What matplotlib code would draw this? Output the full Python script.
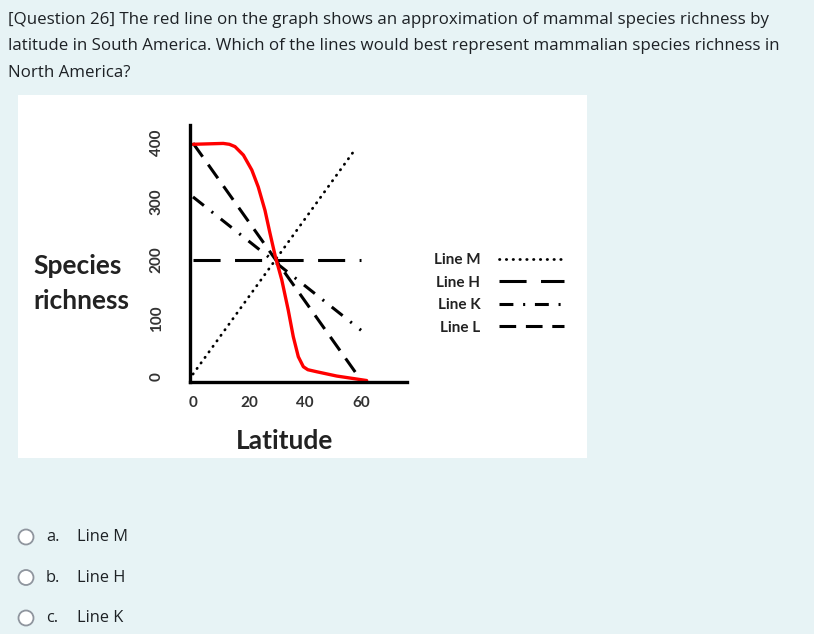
import matplotlib
matplotlib.use("Agg")
import matplotlib.pyplot as plt
from matplotlib.patches import Rectangle, Circle

plt.rcParams['lines.scale_dashes'] = False

# ---- data ----
latitude_ticks = [0, 20, 40, 60]
richness_ticks = [0, 100, 200, 300, 400]

red_x = [0, 10.8, 13, 15, 18, 21, 23.3, 25.7, 27.5, 29.3, 31.7, 34, 35.8, 37.6, 39.4, 41, 44.2, 51.3, 62]
red_y = [398, 399.5, 398, 394, 379.5, 354, 325, 285, 245.6, 208, 166, 114.5, 69, 34.7, 17.6, 12.5, 9, 1.7, -6]

line_m_x = [0, 58]
line_m_y = [5, 390]
line_h_x = [0, 60]
line_h_y = [200, 200]
line_k_x = [0, 60]
line_k_y = [308, 80]
line_l_x = [0, 58]
line_l_y = [400, 8]

legend_labels = ["Line M", "Line H", "Line K", "Line L"]
question_lines = [
    "[Question 26] The red line on the graph shows an approximation of mammal species richness by",
    "latitude in South America. Which of the lines would best represent mammalian species richness in",
    "North America?",
]
option_letters = ["a.", "b.", "c."]
option_texts = ["Line M", "Line H", "Line K"]

W, H = 814, 634
def fx(x): return x / W
def fy(y): return 1 - y / H

fig = plt.figure(figsize=(W / 100, H / 100), dpi=100, facecolor='#e7f3f5')

# white picture box
fig.patches.append(Rectangle((fx(18), fy(458)), (587 - 18) / W, (458 - 95) / H,
                             transform=fig.transFigure, facecolor='white', edgecolor='none', zorder=-5))

ax = fig.add_axes([fx(190), fy(382), (407 - 190) / W, (382 - 125) / H], zorder=2)
ax.set_facecolor('none')
ax.set_xlim(-1.07, 76.4)
ax.set_ylim(-8.5, 431)

lw = 2.2
hM, = ax.plot(line_m_x, line_m_y, color='black', lw=2.0, dashes=(0.3, 4.6), dash_capstyle='round')
hH, = ax.plot(line_h_x, line_h_y, color='black', lw=lw, dashes=(19.5, 10.4))
hK, = ax.plot(line_k_x, line_k_y, color='black', lw=lw, dashes=(10, 7, 1.5, 7))
hL, = ax.plot(line_l_x, line_l_y, color='black', lw=lw, dashes=(12, 7))
ax.plot(red_x, red_y, color='#ff0000', lw=2.4, solid_capstyle='round', solid_joinstyle='round')

for s in ['top', 'right']:
    ax.spines[s].set_visible(False)
for s in ['left', 'bottom']:
    ax.spines[s].set_linewidth(2.4)
    ax.spines[s].set_color('black')

ax.set_xticks(latitude_ticks)
ax.set_yticks(richness_ticks)
ax.tick_params(axis='both', length=0, labelsize=11, labelcolor='#333333')
ax.tick_params(axis='x', pad=10)
ax.tick_params(axis='y', pad=19)
for t in ax.get_xticklabels() + ax.get_yticklabels():
    t.set_fontfamily('Lato')
    t.set_fontweight('bold')
for t in ax.get_yticklabels():
    t.set_rotation(90)
    t.set_va('center')

# axis labels
fig.text(fx(33), fy(266), "Species", fontsize=19, family='Lato', weight='bold', color='#222222', va='center', ha='left')
fig.text(fx(33), fy(301), "richness", fontsize=19, family='Lato', weight='bold', color='#222222', va='center', ha='left')
fig.text(fx(285), fy(441), "Latitude", fontsize=19, family='Lato', weight='bold', color='#222222', va='center', ha='center')

leg = fig.legend([hM, hH, hK, hL], legend_labels, loc='center left',
                 bbox_to_anchor=(fx(426), fy(294)), markerfirst=False, frameon=False,
                 prop={'family': 'Lato', 'weight': 'bold', 'size': 11},
                 handlelength=4.3, handletextpad=1.2, labelspacing=0.55, borderpad=0)
for t in leg.get_texts():
    t.set_color('#222222')

# question text
for i, line in enumerate(question_lines):
    fig.text(fx(8), fy(20 + i * 26.5), line, fontsize=12.15, family='Open Sans', color='#1d2125',
             va='center', ha='left')

for i, (let, txt) in enumerate(zip(option_letters, option_texts)):
    y = 537 + i * 40.5
    fig.text(fx(46), fy(y), let, fontsize=11.8, family='Open Sans', color='#1d2125', va='center', ha='left')
    fig.text(fx(77), fy(y), txt, fontsize=11.8, family='Open Sans', color='#1d2125', va='center', ha='left')

# radio circles (drawn in pixel-aspect axes)
cax = fig.add_axes([0, 0, 1, 1], facecolor='none', zorder=1)
cax.set_xlim(0, W)
cax.set_ylim(H, 0)
cax.axis('off')
for i in range(len(option_letters)):
    y = 537 + i * 40.5
    cax.add_patch(Circle((26, y), 7.5, facecolor='white', edgecolor='#8f959e', lw=1.3))

fig.savefig('out.png', dpi=100, facecolor=fig.get_facecolor())
